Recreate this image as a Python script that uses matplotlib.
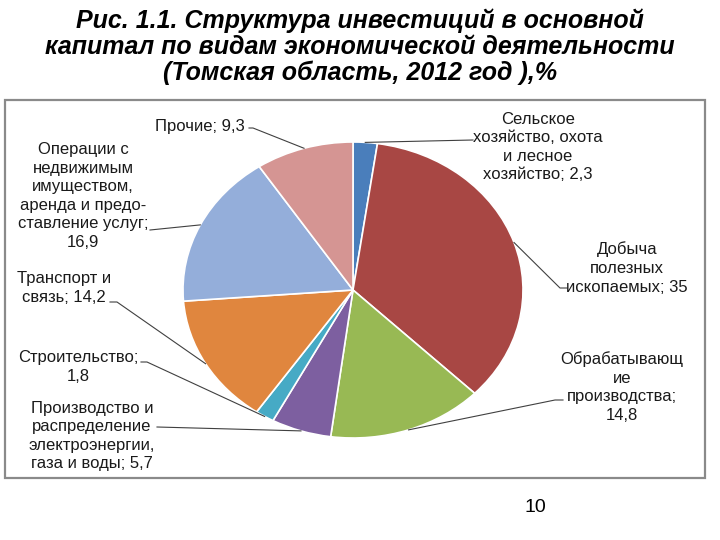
import numpy as np
import matplotlib
matplotlib.use('Agg')
import matplotlib.pyplot as plt
from matplotlib.patches import Rectangle

plt.rcParams['font.family'] = ['Liberation Sans', 'DejaVu Sans']

# data
values = [2.3, 35, 14.8, 5.7, 1.8, 14.2, 16.9, 9.3]
labels = [
    'Сельское\nхозяйство, охота\nи лесное\nхозяйство; 2,3',
    'Добыча\nполезных\nископаемых; 35',
    'Обрабатывающ\nие\nпроизводства;\n14,8',
    'Производство и\nраспределение\nэлектроэнергии,\nгаза и воды; 5,7',
    'Строительство;\n1,8',
    'Транспорт и\nсвязь; 14,2',
    'Операции с\nнедвижимым\nимуществом,\nаренда и предо-\nставление услуг;\n16,9',
    'Прочие; 9,3',
]
colors = ['#4A7EBB', '#A84744', '#98B954', '#7D5FA0', '#46AAC5',
          '#E0863E', '#94AEDA', '#D59593']
title = ('Рис. 1.1. Структура инвестиций в основной\n'
         'капитал по видам экономической деятельности\n'
         '(Томская область, 2012 год ),%')

W, H = 720, 540
fig = plt.figure(figsize=(7.2, 5.4), dpi=100)

# pie geometry in pixels
cx, cy, rx, ry = 353, 290, 170, 148

ax_pie = fig.add_axes([(cx - rx) / W, (H - cy - ry) / H, 2 * rx / W, 2 * ry / H])
wedges, _ = ax_pie.pie(values, colors=colors, startangle=90, counterclock=False,
                       radius=1, frame=True,
                       wedgeprops=dict(linewidth=1.2, edgecolor='white'))
ax_pie.set_aspect('auto')
ax_pie.set_xlim(-1, 1)
ax_pie.set_ylim(-1, 1)
ax_pie.axis('off')

# overlay axes in pixel coords
ov = fig.add_axes([0, 0, 1, 1], zorder=-1)
ov.set_xlim(0, W)
ov.set_ylim(H, 0)
ov.axis('off')
ov2 = fig.add_axes([0, 0, 1, 1])
ov2.set_xlim(0, W)
ov2.set_ylim(H, 0)
ov2.axis('off')
ov2.patch.set_alpha(0)

ov.add_patch(Rectangle((5, 100), 700, 378, facecolor='white',
                       edgecolor='#8A8A8A', linewidth=1.6))

fig.text(0.5, 1 - 47 / H, title, ha='center', va='center', fontsize=18,
         fontweight='bold', fontstyle='italic', linespacing=1.1)
fig.text(535 / W, 1 - 508 / H, '10', ha='center', va='center', fontsize=14)

# label positions (text centre) and leader line bends
text_pos = [(538, 147), (627, 268), (622, 387), (92, 436),
            (78, 367), (64, 288), (83, 196), (200, 127)]
bends = [[(473, 140)],
         [(560, 288), (567, 288)],
         [(555, 400), (563, 400)],
         [(157, 427)],
         [(147, 362), (141, 362)],
         [(117, 302), (110, 302)],
         [(150, 230)],
         [(253, 128), (249, 128)]]

for w, lab, tp, bend in zip(wedges, labels, text_pos, bends):
    mid = np.deg2rad((w.theta1 + w.theta2) / 2)
    px = cx + rx * np.cos(mid)
    py = cy - ry * np.sin(mid)
    xs = [px] + [b[0] for b in bend]
    ys = [py] + [b[1] for b in bend]
    ov2.plot(xs, ys, color='#404040', linewidth=0.8)
    ov2.text(tp[0], tp[1], lab, ha='center', va='center', fontsize=12,
             linespacing=1.3, color='#1A1A1A')

fig.savefig('out.png', dpi=100)
